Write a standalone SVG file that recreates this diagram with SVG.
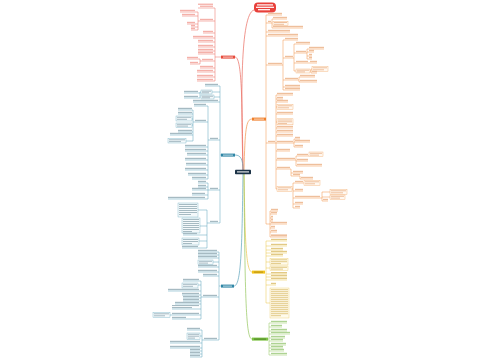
<svg xmlns="http://www.w3.org/2000/svg" width="500" height="360" viewBox="0 0 500 360">
<style>
path{fill:none;stroke-width:.5}
.R path{stroke:#ea6a5f}.R rect{fill:#f4b0a9}
.O path{stroke:#f29247}.O rect{fill:#eebf9c}
.T path{stroke:#5aa2ba}.T rect{fill:#a6bac2}
.Y path{stroke:#ebc44a}.Y rect{fill:#e2c986}
.G path{stroke:#93c65c}.G rect{fill:#aed393}
.O rect.bx{fill:#fff8f1;stroke:#f2ad70;stroke-width:.4}
.T rect.bx{fill:#f4f9fb;stroke:#78b2c6;stroke-width:.4}
.Y rect.bx{fill:#fffbec;stroke:#ebcc6e;stroke-width:.4}
.cv{stroke-width:.7}
.w{fill:#ffffff}
</style>
<rect width="500" height="360" fill="#ffffff"/>
<g id="connectors">
<g class="R"><path class="cv" d="M243 170C241 100 240 14 254 10"/><path class="cv" d="M243 170C242 100 242 57 235 57"/><path d="M215 8V81M198 12V30M200 59V64M215 57H221"/></g>
<g class="O"><path class="cv" d="M244 170C245 130 246 119 252 119"/><path d="M266 15V224M272 19V28M283 40V90M294 44V71M307 49V59M311 69V73M299 77V82M276 95V189M294 139V147M296 156V166M291 169V176M300 176V179M293 183V208M322 192V201M270 211V237"/></g>
<g class="T"><path class="cv" d="M243 170C243 160 241 155 235 155"/><path d="M220 86V223M200 92V98M208 106V179M193 110V141M208 183V199M207 210V248M220 155H221"/></g>
<g class="Y"><path class="cv" d="M244 174C245 240 246 272 252 272"/><path d="M266 241V303"/></g>
<g class="T"><path class="cv" d="M243 174C242 250 241 286 234 286"/><path d="M219 252V340M201 281V319M202 330V357M219 286H221"/></g>
<g class="G"><path class="cv" d="M244 174C245 300 246 339 252 339"/><path d="M269 323V355M268 339H269"/></g>
</g>
<g id="center"><rect x="235" y="169.8" width="16" height="4.4" rx=".8" fill="#1c3347"/><rect class="w" x="237" y="171.3" width="12" height="1.2" opacity=".85"/></g>
<g id="title"><rect x="254" y="2.5" width="22" height="10" rx="4" fill="#e8403a"/><rect class="w" x="257" y="4.3" width="16" height="1.2"/><rect class="w" x="256" y="6.7" width="18" height="1.2"/><rect class="w" x="258" y="9.1" width="12" height="1.2"/></g>
<g id="n-red"><rect x="221" y="55.6" width="14" height="3" fill="#e74c3c"/><rect class="w" x="223" y="56.6" width="10" height="1" opacity=".7"/></g>
<g id="n-orange"><rect x="252" y="117.6" width="14" height="3" fill="#f07f2a"/><rect class="w" x="254" y="118.6" width="10" height="1" opacity=".7"/></g>
<g id="n-teal1"><rect x="221" y="153.6" width="14" height="3" fill="#2f86a6"/><rect class="w" x="223" y="154.6" width="10" height="1" opacity=".7"/></g>
<g id="n-yellow"><rect x="252" y="270.6" width="13" height="3" fill="#f2c21a"/><rect x="254" y="271.6" width="9" height="1" fill="#8a6d10" opacity=".6"/></g>
<g id="n-teal2"><rect x="221" y="284.6" width="13" height="3" fill="#2f86a6"/><rect class="w" x="223" y="285.6" width="9" height="1" opacity=".7"/></g>
<g id="n-green"><rect x="252" y="337.6" width="16" height="3" fill="#7cc242"/><rect x="254" y="338.6" width="12" height="1" fill="#2f5a14" opacity=".6"/></g>
<g class="R">
<g id="r1"><rect x="198" y="3.6" width="15" height="1.3"/><rect x="200" y="5.6" width="13" height="1.3"/><path d="M198 8H215"/></g>
<g id="r2"><rect x="200" y="18.8" width="13" height="1.3"/><path d="M198 21H215"/></g>
<g id="r2a"><rect x="180" y="9.8" width="15" height="1.3"/><path d="M180 12H198"/></g>
<g id="r2b"><rect x="182" y="13.8" width="13" height="1.3"/><path d="M182 16H198"/></g>
<g id="r2c"><rect x="187" y="21.8" width="8" height="1.3"/><path d="M187 24H198"/></g>
<g id="r2d"><rect x="191" y="24.8" width="4" height="1.3"/><path d="M191 27H198"/></g>
<g id="r2e"><rect x="191" y="27.8" width="4" height="1.3"/><path d="M191 30H198"/></g>
<g id="r3"><rect x="203" y="30.8" width="10" height="1.3"/><path d="M203 33H215"/></g>
<g id="r4"><rect x="193" y="35.8" width="20" height="1.3"/><path d="M193 38H215"/></g>
<g id="r5"><rect x="198" y="39.8" width="15" height="1.3"/><path d="M198 42H215"/></g>
<g id="r6"><rect x="198" y="44.8" width="15" height="1.3"/><path d="M198 47H215"/></g>
<g id="r7"><rect x="198" y="48.8" width="15" height="1.3"/><path d="M198 51H215"/></g>
<g id="r8"><rect x="198" y="51.8" width="15" height="1.3"/><path d="M198 54H215"/></g>
<g id="r9"><rect x="202" y="58.8" width="11" height="1.3"/><path d="M200 61H215"/></g>
<g id="r9a"><rect x="187" y="56.8" width="11" height="1.3"/><path d="M187 59H200"/></g>
<g id="r9b"><rect x="190" y="61.8" width="8" height="1.3"/><path d="M190 64H200"/></g>
<g id="r10"><rect x="200" y="65.8" width="13" height="1.3"/><path d="M200 68H215"/></g>
<g id="r11"><rect x="197" y="69.8" width="16" height="1.3"/><path d="M197 72H215"/></g>
<g id="r12"><rect x="197" y="74.8" width="16" height="1.3"/><path d="M197 77H215"/></g>
<g id="r13"><rect x="197" y="78.8" width="16" height="1.3"/><path d="M197 81H215"/></g>
</g>
<g class="O">
<g id="o1"><rect x="268" y="12.8" width="14" height="1.3"/><path d="M266 15H282"/></g>
<g id="o2"><rect x="268" y="20.8" width="3" height="1.3"/><path d="M266 23H272"/></g>
<g id="o2a"><rect x="273" y="16.8" width="14" height="1.3"/><path d="M272 19H287"/></g>
<g id="o2b"><rect class="bx" x="273" y="21.2" width="15" height="4.2"/><rect x="274" y="22" width="13" height="1"/><rect x="274" y="23.8" width="10" height="1"/></g>
<g id="o2c"><rect x="273" y="25.8" width="30" height="1.3"/><path d="M272 28H303"/></g>
<g id="o3"><rect x="268" y="29.8" width="22" height="1.3"/><path d="M266 32H290"/></g>
<g id="o4"><rect x="268" y="33.8" width="30" height="1.3"/><path d="M266 36H298"/></g>
<g id="o5"><rect x="268" y="62.8" width="14" height="1.3"/><path d="M266 65H283"/></g>
<g id="o5a"><rect x="285" y="37.8" width="13" height="1.3"/><path d="M283 40H298"/></g>
<g id="o5b"><rect x="285" y="55.8" width="8" height="1.3"/><path d="M283 58H294"/></g>
<g id="o5b1"><rect x="296" y="41.8" width="14" height="1.3"/><path d="M294 44H310"/></g>
<g id="o5b2"><rect x="296" y="50.8" width="10" height="1.3"/><path d="M294 53H307"/></g>
<g id="o5b2a"><rect x="309" y="46.8" width="15" height="1.3"/><path d="M307 49H324"/></g>
<g id="o5b2b"><rect x="309" y="49.8" width="5" height="1.3"/><path d="M307 52H314"/></g>
<g id="o5b2c"><rect x="309" y="53.8" width="3" height="1.3"/><path d="M307 56H312"/></g>
<g id="o5b2d"><rect x="309" y="56.8" width="3" height="1.3"/><path d="M307 59H312"/></g>
<g id="o5b3"><rect x="296" y="60.8" width="12" height="1.3"/><path d="M294 63H308"/></g>
<g id="o5b3a"><rect x="310" y="60.8" width="7" height="1.3"/><path d="M308 63H317"/></g>
<g id="o5b4"><rect class="bx" x="296" y="69" width="14" height="4"/><rect x="297" y="69.7" width="12" height="1"/><rect x="297" y="71.4" width="8" height="1"/><path d="M294 71H296M310 71H311"/></g>
<g id="o5b4a"><rect class="bx" x="312" y="66.5" width="16" height="5"/><rect x="313" y="67.3" width="14" height="1"/><rect x="313" y="69.3" width="11" height="1"/><path d="M311 69H312"/></g>
<g id="o5b4b"><rect x="312" y="70.8" width="5" height="1.3"/><path d="M311 73H317"/></g>
<g id="o5c"><rect x="285" y="77.8" width="13" height="1.3"/><path d="M283 80H299"/></g>
<g id="o5c1"><rect x="300" y="74.8" width="15" height="1.3"/><path d="M299 77H315"/></g>
<g id="o5c2"><rect x="300" y="79.8" width="17" height="1.3"/><path d="M299 82H317"/></g>
<g id="o5d"><rect x="285" y="84.8" width="15" height="1.3"/><path d="M283 87H300"/></g>
<g id="o5e"><rect x="285" y="87.8" width="15" height="1.3"/><path d="M283 90H300"/></g>
<g id="o6"><rect x="268" y="140.8" width="7" height="1.3"/><path d="M266 143H276"/></g>
<g id="o6a"><rect x="277" y="92.8" width="16" height="1.3"/><path d="M276 95H293"/></g>
<g id="o6b"><rect x="277" y="96.8" width="6" height="1.3"/><path d="M276 99H283"/></g>
<g id="o6c"><rect x="277" y="99.8" width="11" height="1.3"/><path d="M276 102H288"/></g>
<g id="o6d"><rect class="bx" x="277" y="104.5" width="16" height="5"/><rect x="278" y="105.3" width="14" height="1"/><rect x="278" y="107.3" width="11" height="1"/><path d="M276 107H277"/></g>
<g id="o6e"><rect x="277" y="111.8" width="16" height="1.3"/><path d="M276 114H293"/></g>
<g id="o6f"><rect class="bx" x="277" y="118.8" width="16" height="6"/><rect x="278" y="119.5" width="14" height="1"/><rect x="278" y="121.3" width="14" height="1"/><rect x="278" y="123.1" width="9" height="1"/><path d="M276 122H277"/></g>
<g id="o6g"><rect x="277" y="125.8" width="16" height="1.3"/><path d="M276 128H293"/></g>
<g id="o6h"><rect x="277" y="129.8" width="16" height="1.3"/><path d="M276 132H293"/></g>
<g id="o6i"><rect x="277" y="133.8" width="16" height="1.3"/><path d="M276 136H293"/></g>
<g id="o6j"><rect x="277" y="140.8" width="16" height="1.3"/><path d="M276 143H294"/></g>
<g id="o6j1"><rect x="295" y="136.8" width="5" height="1.3"/><path d="M294 139H300"/></g>
<g id="o6j2"><rect x="295" y="139.8" width="15" height="1.3"/><path d="M294 142H310"/></g>
<g id="o6j3"><rect x="295" y="144.8" width="8" height="1.3"/><path d="M294 147H303"/></g>
<g id="o6k"><rect x="277" y="148.8" width="13" height="1.3"/><path d="M276 151H290"/></g>
<g id="o6l"><rect x="277" y="157.8" width="18" height="1.3"/><path d="M276 160H296"/></g>
<g id="o6l1"><rect x="297" y="153.8" width="11" height="1.3"/><path d="M296 156H309"/></g>
<g id="o6l1a"><rect class="bx" x="309" y="152" width="14" height="4.5"/><rect x="310" y="152.8" width="12" height="1"/><rect x="310" y="154.6" width="9" height="1"/></g>
<g id="o6l2"><rect x="297" y="158.8" width="11" height="1.3"/><path d="M296 161H308"/></g>
<g id="o6l3"><rect x="297" y="163.8" width="25" height="1.3"/><path d="M296 166H322"/></g>
<g id="o6m"><rect x="277" y="166.8" width="13" height="1.3"/><path d="M276 169H291"/></g>
<g id="o6m1"><rect x="293" y="170.8" width="10" height="1.3"/><path d="M291 173H303"/></g>
<g id="o6m2"><rect x="293" y="173.8" width="7" height="1.3"/><path d="M291 176H300"/></g>
<g id="o6m3"><rect x="301" y="176.8" width="12" height="1.3"/><path d="M300 179H313"/></g>
<g id="o6n"><rect class="bx" x="277" y="186.5" width="15" height="5"/><rect x="278" y="187.3" width="13" height="1"/><rect x="278" y="189.3" width="10" height="1"/><path d="M276 189H277M292 189H293"/></g>
<g id="o6n1"><rect x="295" y="180.8" width="8" height="1.3"/><path d="M293 183H304"/></g>
<g id="o6n1a"><rect class="bx" x="304" y="180.5" width="16" height="5"/><rect x="305" y="181.3" width="14" height="1"/><rect x="305" y="183.3" width="10" height="1"/></g>
<g id="o6n2"><rect x="295" y="188.8" width="8" height="1.3"/><path d="M293 191H303"/></g>
<g id="o6n3"><rect x="295" y="195.8" width="25" height="1.3"/><path d="M293 198H322"/></g>
<g id="o6n3a"><rect class="bx" x="330" y="189.5" width="17" height="5"/><rect x="331" y="190.3" width="15" height="1"/><rect x="331" y="192.3" width="12" height="1"/><path d="M322 192H330"/></g>
<g id="o6n3b"><rect class="bx" x="330" y="195" width="15" height="4.5"/><rect x="331" y="195.8" width="13" height="1"/><rect x="331" y="197.6" width="9" height="1"/><path d="M322 197H330"/></g>
<g id="o6n3c"><rect x="323" y="198.8" width="5" height="1.3"/><path d="M322 201H328"/></g>
<g id="o6n4"><rect x="295" y="201.8" width="8" height="1.3"/><path d="M293 204H303"/></g>
<g id="o6n5"><rect x="295" y="205.8" width="5" height="1.3"/><path d="M293 208H300"/></g>
<g id="o7"><path d="M266 224H270"/></g>
<g id="o7a"><rect x="271" y="208.8" width="7" height="1.3"/><path d="M270 211H278"/></g>
<g id="o7b"><rect x="271" y="211.8" width="6" height="1.3"/><path d="M270 214H277"/></g>
<g id="o7c"><rect x="271" y="215.8" width="2" height="1.3"/><path d="M270 218H273"/></g>
<g id="o7d"><rect x="271" y="218.8" width="2" height="1.3"/><path d="M270 221H273"/></g>
<g id="o7e"><rect x="271" y="221.8" width="16" height="1.3"/><path d="M270 224H287"/></g>
<g id="o7f"><rect x="271" y="225.8" width="4" height="1.3"/><path d="M270 228H275"/></g>
<g id="o7g"><rect x="271" y="229.8" width="6" height="1.3"/><path d="M270 232H277"/></g>
<g id="o7h"><rect x="271" y="234.4" width="16" height="1.8" fill="#e3a070"/><path d="M270 237H287"/></g>
</g>
<g class="Y">
<g id="y1"><rect x="271" y="238.8" width="16" height="1.3"/><path d="M266 241H287"/></g>
<g id="y2"><rect x="271" y="243.8" width="16" height="1.3"/><path d="M266 246H287"/></g>
<g id="y3"><rect x="271" y="247.8" width="12" height="1.3"/><path d="M266 250H283"/></g>
<g id="y4"><rect x="271" y="250.8" width="16" height="1.3"/><path d="M266 253H287"/></g>
<g id="y5"><rect x="271" y="253.8" width="12" height="1.3"/><path d="M266 256H283"/></g>
<g id="y6"><rect class="bx" x="270" y="258.5" width="18" height="6.5"/><rect x="271" y="259.3" width="16" height="1"/><rect x="271" y="261.2" width="16" height="1"/><rect x="271" y="263.1" width="10" height="1"/><path d="M266 262H270"/></g>
<g id="y7"><rect class="bx" x="270" y="266" width="18" height="4.5"/><rect x="271" y="266.8" width="16" height="1"/><rect x="271" y="268.6" width="12" height="1"/><path d="M266 268H270"/></g>
<g id="y8"><rect x="271" y="272" width="16" height="1.3"/><path d="M266 274H287"/></g>
<g id="y9"><rect x="271" y="274.8" width="16" height="1.3"/><path d="M266 277H287"/></g>
<g id="y10"><rect x="271" y="277.8" width="16" height="1.3"/><path d="M266 280H287"/></g>
<g id="y11"><rect x="271" y="282.8" width="5" height="1.3"/><path d="M266 285H276"/></g>
<g id="y12"><rect class="bx" x="270" y="288" width="19" height="30"/><rect x="271" y="289.2" width="17" height="1"/><rect x="271" y="291.2" width="17" height="1"/><rect x="271" y="293.2" width="17" height="1"/><rect x="271" y="295.2" width="17" height="1"/><rect x="271" y="297.2" width="17" height="1"/><rect x="271" y="299.2" width="17" height="1"/><rect x="271" y="301.2" width="17" height="1"/><rect x="271" y="303.2" width="17" height="1"/><rect x="271" y="305.2" width="17" height="1"/><rect x="271" y="307.2" width="17" height="1"/><rect x="271" y="309.2" width="17" height="1"/><rect x="271" y="311.2" width="17" height="1"/><rect x="271" y="313.2" width="17" height="1"/><rect x="271" y="315.2" width="10" height="1"/><path d="M266 303H270"/></g>
</g>
<g class="G">
<g id="g1"><rect x="271" y="320.8" width="16" height="1.3"/><path d="M269 323H287"/></g>
<g id="g2"><rect x="271" y="324.8" width="11" height="1.3"/><path d="M269 327H282"/></g>
<g id="g3"><rect x="271" y="328.8" width="16" height="1.3"/><path d="M269 331H287"/></g>
<g id="g4"><rect x="271" y="331.8" width="19" height="1.3"/><path d="M269 334H290"/></g>
<g id="g5"><rect x="271" y="335.8" width="14" height="1.3"/><path d="M269 338H285"/></g>
<g id="g6"><rect x="271" y="338.8" width="12" height="1.3"/><path d="M269 341H283"/></g>
<g id="g7"><rect x="271" y="342.8" width="15" height="1.3"/><path d="M269 345H286"/></g>
<g id="g8"><rect x="271" y="345.8" width="12" height="1.3"/><path d="M269 348H283"/></g>
<g id="g9"><rect x="271" y="348.8" width="13" height="1.3"/><path d="M269 351H284"/></g>
<g id="g10"><rect x="271" y="352.8" width="16" height="1.3"/><path d="M269 355H287"/></g>
</g>
<g class="T">
<g id="t1"><rect x="205" y="83.8" width="13" height="1.3"/><path d="M205 86H220"/></g>
<g id="t2"><rect class="bx" x="201" y="90" width="11" height="4"/><rect x="202" y="90.7" width="9" height="1"/><rect x="202" y="92.3" width="7" height="1"/><path d="M212 92H220M200 92H201"/></g>
<g id="t2a"><rect x="184" y="90.8" width="14" height="1.3"/><path d="M184 93H200"/></g>
<g id="t3"><rect class="bx" x="201" y="95" width="13" height="4"/><rect x="202" y="95.7" width="11" height="1"/><rect x="202" y="97.3" width="8" height="1"/><path d="M214 97H220"/></g>
<g id="t3a"><rect x="184" y="95.8" width="14" height="1.3"/><path d="M184 98H200"/></g>
<g id="t4"><rect x="193" y="99.8" width="25" height="1.3"/><path d="M193 102H220"/></g>
<g id="t5"><rect x="210" y="137.8" width="8" height="1.3"/><path d="M208 140H220"/></g>
<g id="t5a"><rect x="194" y="103.8" width="12" height="1.3"/><path d="M194 106H208"/></g>
<g id="t5b"><rect x="195" y="119.8" width="11" height="1.3"/><path d="M193 122H208"/></g>
<g id="t5b1"><rect x="178" y="107.8" width="14" height="1.3"/><path d="M178 110H193"/></g>
<g id="t5b2"><rect x="178" y="111.8" width="14" height="1.3"/><path d="M178 114H193"/></g>
<g id="t5b3"><rect class="bx" x="176" y="116" width="16" height="5"/><rect x="177" y="116.8" width="14" height="1"/><rect x="177" y="118.8" width="10" height="1"/><path d="M192 119H193"/></g>
<g id="t5b4"><rect class="bx" x="176" y="123" width="16" height="4.5"/><rect x="177" y="123.8" width="14" height="1" fill="#6f8a95"/><rect x="177" y="125.6" width="11" height="1" fill="#6f8a95"/><path d="M192 125H193"/></g>
<g id="t5b5"><rect x="178" y="129.8" width="14" height="1.3"/><path d="M178 132H193"/></g>
<g id="t5b6"><rect x="170" y="132.8" width="22" height="1.3"/><path d="M170 135H193"/></g>
<g id="t5b7"><rect class="bx" x="168" y="138.5" width="18" height="4.5"/><rect x="169" y="139.3" width="16" height="1"/><rect x="169" y="141.1" width="12" height="1"/><path d="M186 141H193"/></g>
<g id="t5c"><rect x="185" y="144.8" width="21" height="1.3"/><path d="M185 147H208"/></g>
<g id="t5d"><rect x="185" y="148.8" width="21" height="1.3"/><path d="M185 151H208"/></g>
<g id="t5e"><rect x="187" y="152.8" width="19" height="1.3"/><path d="M187 155H208"/></g>
<g id="t5f"><rect x="185" y="157.8" width="21" height="1.3"/><path d="M185 160H208"/></g>
<g id="t5g"><rect x="186" y="162.8" width="20" height="1.3"/><path d="M186 165H208"/></g>
<g id="t5h"><rect x="185" y="167.8" width="21" height="1.3"/><path d="M185 170H208"/></g>
<g id="t5i"><rect x="188" y="172.8" width="18" height="1.3"/><path d="M188 175H208"/></g>
<g id="t5j"><rect x="192" y="176.8" width="14" height="1.3"/><path d="M192 179H208"/></g>
<g id="t6"><rect x="210" y="187.8" width="8" height="1.3"/><path d="M208 190H220"/></g>
<g id="t6a"><rect x="198" y="180.8" width="8" height="1.3"/><path d="M198 183H208"/></g>
<g id="t6b"><rect x="198" y="184.8" width="8" height="1.3"/><path d="M198 187H208"/></g>
<g id="t6c"><rect x="192" y="187.8" width="14" height="1.3"/><path d="M192 190H208"/></g>
<g id="t6d"><rect x="192" y="192.8" width="13" height="1.3"/><path d="M192 195H208"/></g>
<g id="t6e"><rect x="168" y="196.8" width="37" height="1.3"/><path d="M168 199H208"/></g>
<g id="t7"><rect x="210" y="220.8" width="8" height="1.3"/><path d="M207 223H220"/></g>
<g id="t7a"><rect class="bx" x="178" y="203" width="20" height="14"/><rect x="179" y="204" width="18" height="1"/><rect x="179" y="206" width="18" height="1"/><rect x="179" y="208" width="18" height="1"/><rect x="179" y="210" width="18" height="1"/><rect x="179" y="212" width="18" height="1"/><rect x="179" y="214" width="12" height="1"/><path d="M198 210H207"/></g>
<g id="t7b"><rect class="bx" x="182" y="218" width="18" height="15"/><rect x="183" y="219" width="16" height="1"/><rect x="183" y="221" width="16" height="1"/><rect x="183" y="223" width="16" height="1"/><rect x="183" y="225" width="16" height="1"/><rect x="183" y="227" width="16" height="1"/><rect x="183" y="229" width="16" height="1"/><rect x="183" y="231" width="9" height="1"/><path d="M200 226H207"/></g>
<g id="t7c"><rect x="183" y="232.8" width="14" height="1.3"/><path d="M183 235H207"/></g>
<g id="t7d"><rect class="bx" x="182" y="238" width="17" height="7"/><rect x="183" y="239" width="15" height="1"/><rect x="183" y="241" width="15" height="1"/><rect x="183" y="243" width="9" height="1"/><path d="M199 241H207"/></g>
<g id="t7e"><rect x="182" y="245.8" width="16" height="1.3"/><path d="M182 248H207"/></g>
<g id="u1"><rect x="198" y="249.8" width="19" height="1.3"/><path d="M198 252H219"/></g>
<g id="u2"><rect x="198" y="252.8" width="19" height="1.3"/><path d="M198 255H219"/></g>
<g id="u3"><rect x="198" y="255.8" width="19" height="1.3"/><path d="M198 258H219"/></g>
<g id="u4"><rect class="bx" x="198" y="260" width="15" height="4.5"/><rect x="199" y="260.8" width="13" height="1"/><rect x="199" y="262.6" width="9" height="1"/><path d="M213 262H219"/></g>
<g id="u5"><rect x="198" y="264.8" width="19" height="1.3"/><path d="M198 267H219"/></g>
<g id="u6"><rect x="198" y="269.8" width="19" height="1.3"/><path d="M198 272H219"/></g>
<g id="u7"><rect x="203" y="273.8" width="14" height="1.3"/><path d="M203 276H219"/></g>
<g id="u8"><rect x="203" y="294.8" width="14" height="1.3"/><path d="M201 297H219"/></g>
<g id="u8a"><rect x="183" y="278.8" width="16" height="1.3"/><path d="M183 281H201"/></g>
<g id="u8b"><rect class="bx" x="182" y="283" width="16" height="5"/><rect x="183" y="283.8" width="14" height="1"/><rect x="183" y="285.8" width="10" height="1"/><path d="M198 285H201"/></g>
<g id="u8c"><rect x="168" y="288.8" width="31" height="1.3"/><path d="M168 291H201"/></g>
<g id="u8d"><rect x="182" y="292.8" width="17" height="1.3"/><path d="M182 295H201"/></g>
<g id="u8e"><rect x="183" y="295.8" width="16" height="1.3"/><path d="M183 298H201"/></g>
<g id="u8f"><rect x="183" y="298.8" width="16" height="1.3"/><path d="M183 301H201"/></g>
<g id="u8g"><rect x="175" y="301.8" width="24" height="1.3"/><path d="M175 304H201"/></g>
<g id="u8h"><rect x="172" y="305" width="27" height="1.1"/><rect x="172" y="307" width="20" height="1.1"/><path d="M172 309H201"/></g>
<g id="u8i"><rect x="172" y="312.8" width="27" height="1.3"/><path d="M172 315H201"/></g>
<g id="u8i1"><rect class="bx" x="153" y="312.5" width="17" height="5"/><rect x="154" y="313.3" width="15" height="1"/><rect x="154" y="315.3" width="11" height="1"/><path d="M170 315H172"/></g>
<g id="u8j"><rect x="172" y="316.8" width="14" height="1.3"/><path d="M172 319H201"/></g>
<g id="u9"><rect x="204" y="337.8" width="13" height="1.3"/><path d="M202 340H219"/></g>
<g id="u9a"><rect x="187" y="327.8" width="13" height="1.3"/><path d="M187 330H202"/></g>
<g id="u9b"><rect class="bx" x="187" y="333" width="13" height="6.5"/><rect x="188" y="333.8" width="11" height="1"/><rect x="188" y="335.7" width="11" height="1"/><rect x="188" y="337.6" width="7" height="1"/><path d="M200 336H202"/></g>
<g id="u9c"><rect x="170" y="340.8" width="30" height="1.3"/><path d="M170 343H202"/></g>
<g id="u9d"><rect x="170" y="345.8" width="30" height="1.3"/><path d="M170 348H202"/></g>
<g id="u9e"><rect x="190" y="348.8" width="10" height="1.3"/><path d="M190 351H202"/></g>
<g id="u9f"><rect x="190" y="351.8" width="10" height="1.3"/><path d="M190 354H202"/></g>
<g id="u9g"><rect x="190" y="354.8" width="10" height="1.3"/><path d="M190 357H202"/></g>
</g>
</svg>
